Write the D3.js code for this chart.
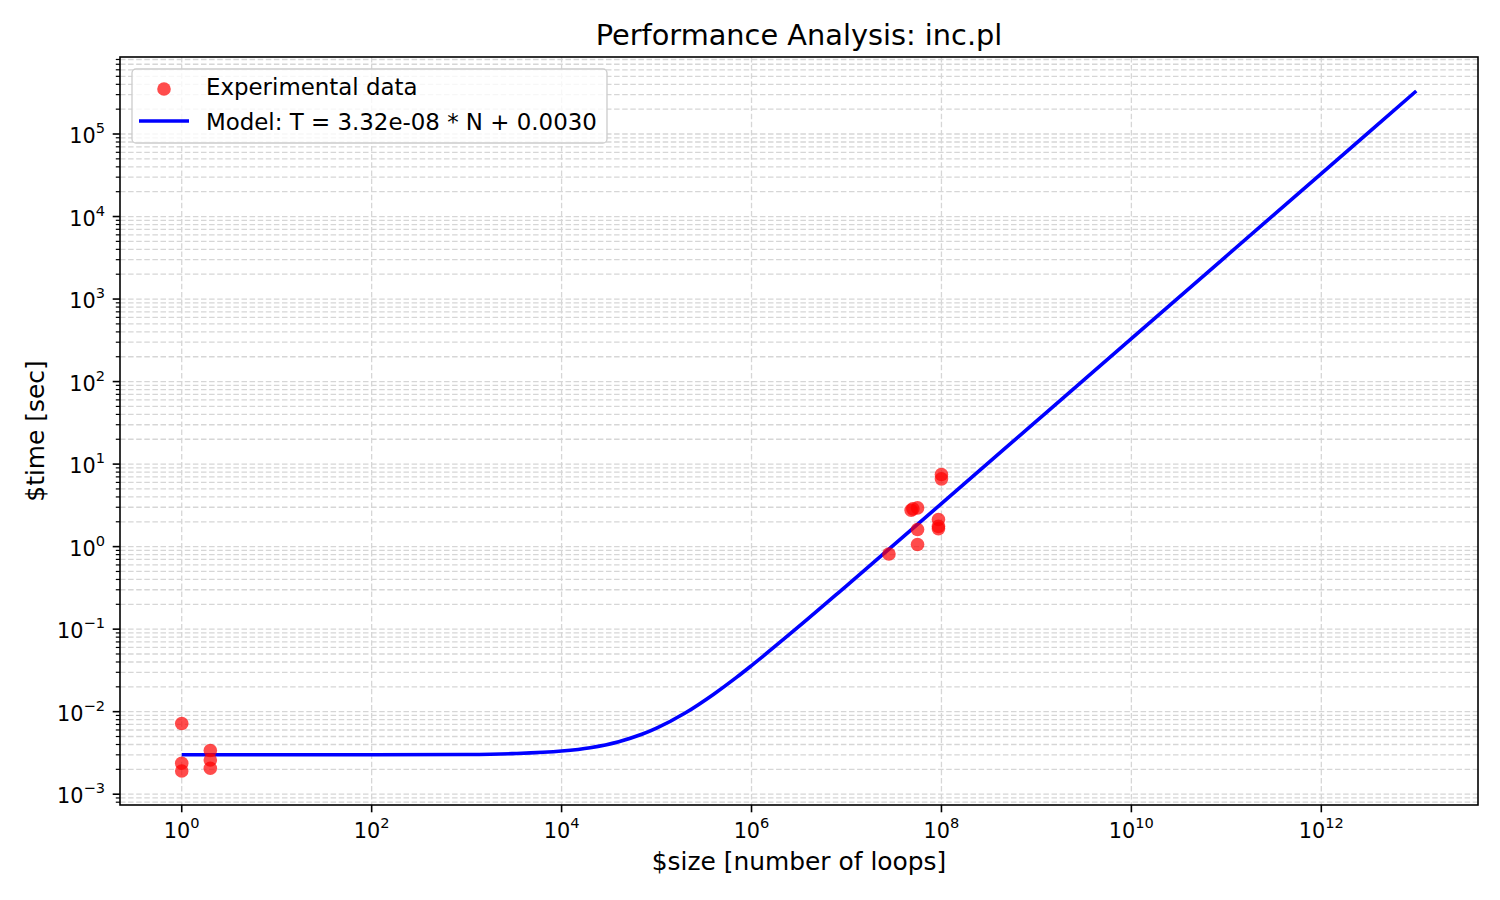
<!DOCTYPE html>
<html>
<head>
<meta charset="utf-8">
<script src="https://cdn.jsdelivr.net/npm/d3@7"></script>
<style>
  body { margin: 0; background: #fff; }
  svg text { font-family: "DejaVu Sans", sans-serif; fill: #000; }
</style>
</head>
<body>
<svg id="chart" width="1500" height="900"></svg>
<script>
// measured runs (loop count, wall time in seconds)
const expSizes = [1, 1, 1, 2, 2, 2, 2.8e7, 4.8e7, 5e7, 5.6e7, 5.6e7, 5.6e7, 9.3e7, 9.3e7, 9.3e7, 1e8, 1e8];
const expTimes = [0.0072, 0.00237, 0.00191, 0.00338, 0.0026, 0.00206, 0.815, 2.76, 2.87, 2.95, 1.61, 1.06, 2.13, 1.76, 1.65, 7.48, 6.63];

// fitted model curve
const modelSizes = [1, 10, 100, 1e3, 3e3, 1e4, 2e4, 4e4, 7e4, 1e5, 2e5, 4e5, 7e5, 1e6, 3e6, 1e7, 1e8, 1e9, 1e10, 1e11, 1e12, 1e13];
const modelTimes = [0.0030, 0.0030, 0.0030, 0.00303, 0.00310, 0.00333, 0.00366, 0.00433, 0.00532, 0.00632, 0.00964, 0.0163, 0.0262, 0.0362, 0.1026, 0.335, 3.32, 33.2, 332, 3320, 33200, 332000];

const xTickExps = [0, 2, 4, 6, 8, 10, 12];
const yTickExps = [-3, -2, -1, 0, 1, 2, 3, 4, 5];

const titleText = 'Performance Analysis: inc.pl';
const xLabelText = '$size [number of loops]';
const yLabelText = '$time [sec]';
const legendLabels = ['Experimental data', 'Model: T = 3.32e-08 * N + 0.0030'];

const margin = {top: 57, right: 22, bottom: 95, left: 120};
const width = 1500, height = 900;
const innerW = width - margin.left - margin.right;
const innerH = height - margin.top - margin.bottom;

// matplotlib-like 5% padding in log space
function logPad(lo, hi) {
  const a = Math.log10(lo), b = Math.log10(hi), p = (b - a) * 0.05;
  return [Math.pow(10, a - p), Math.pow(10, b + p)];
}
const allX = expSizes.concat(modelSizes);
const allY = expTimes.concat(modelTimes);

const xScale = d3.scaleLog().domain(logPad(d3.min(allX), d3.max(allX))).range([0, innerW]);
const yScale = d3.scaleLog().domain(logPad(d3.min(allY), d3.max(allY))).range([innerH, 0]);

const svg = d3.select('#chart');
const g = svg.append('g').attr('transform', `translate(${margin.left},${margin.top})`);

const gridColor = '#d6d6d6';
const dash = '5.5,2.6';

// y grid: major + minor
const yMinor = [];
for (let k = -4; k <= 6; k++) {
  for (let m = 2; m <= 9; m++) {
    const v = m * Math.pow(10, k);
    if (v > yScale.domain()[0] && v < yScale.domain()[1]) yMinor.push(v);
  }
}
const yMajor = yTickExps.map(e => Math.pow(10, e));
const xMajor = xTickExps.map(e => Math.pow(10, e));

const grid = g.append('g').attr('class', 'grid');
grid.selectAll('line.gy')
  .data(yMajor.concat(yMinor))
  .join('line')
  .attr('x1', 0).attr('x2', innerW)
  .attr('y1', d => yScale(d)).attr('y2', d => yScale(d))
  .attr('stroke', gridColor).attr('stroke-width', 1.3).attr('stroke-dasharray', dash);
grid.selectAll('line.gx')
  .data(xMajor)
  .join('line')
  .attr('x1', d => xScale(d)).attr('x2', d => xScale(d))
  .attr('y1', 0).attr('y2', innerH)
  .attr('stroke', gridColor).attr('stroke-width', 1.3).attr('stroke-dasharray', dash);

// model line
const line = d3.line()
  .x((d, i) => xScale(modelSizes[i]))
  .y(d => yScale(d))
  .curve(d3.curveMonotoneX);
g.append('path')
  .datum(modelTimes)
  .attr('d', line)
  .attr('fill', 'none')
  .attr('stroke', '#0000ff')
  .attr('stroke-width', 3.6);

// scatter points
g.append('g')
  .selectAll('circle')
  .data(expTimes)
  .join('circle')
  .attr('cx', (d, i) => xScale(expSizes[i]))
  .attr('cy', d => yScale(d))
  .attr('r', 6.8)
  .attr('fill', '#ff0000')
  .attr('fill-opacity', 0.7);

// axes with mathtext-like labels
function powLabel(sel, e) {
  sel.text(null);
  sel.append('tspan').text('10');
  sel.append('tspan')
    .attr('dy', -10)
    .attr('font-size', 14.6)
    .text(e < 0 ? '\u2212' + (-e) : String(e));
}

const xAxis = g.append('g').attr('transform', `translate(0,${innerH})`);
xAxis.selectAll('line')
  .data(xMajor)
  .join('line')
  .attr('x1', d => xScale(d)).attr('x2', d => xScale(d))
  .attr('y1', 0).attr('y2', 7.3)
  .attr('stroke', '#000').attr('stroke-width', 1.6);
xAxis.selectAll('text')
  .data(xTickExps)
  .join('text')
  .attr('x', e => xScale(Math.pow(10, e)))
  .attr('y', 33)
  .attr('text-anchor', 'middle')
  .attr('font-size', 20.8)
  .each(function(e) { powLabel(d3.select(this), e); });

const yAxis = g.append('g');
yAxis.selectAll('line.maj')
  .data(yMajor)
  .join('line')
  .attr('x1', -7.3).attr('x2', 0)
  .attr('y1', d => yScale(d)).attr('y2', d => yScale(d))
  .attr('stroke', '#000').attr('stroke-width', 1.6);
yAxis.selectAll('line.min')
  .data(yMinor)
  .join('line')
  .attr('x1', -4.2).attr('x2', 0)
  .attr('y1', d => yScale(d)).attr('y2', d => yScale(d))
  .attr('stroke', '#000').attr('stroke-width', 1.2);
yAxis.selectAll('text')
  .data(yTickExps)
  .join('text')
  .attr('x', -15)
  .attr('y', e => yScale(Math.pow(10, e)) + 9)
  .attr('text-anchor', 'end')
  .attr('font-size', 20.8)
  .each(function(e) { powLabel(d3.select(this), e); });

// frame
g.append('rect')
  .attr('width', innerW).attr('height', innerH)
  .attr('fill', 'none').attr('stroke', '#000').attr('stroke-width', 1.6);

// titles
svg.append('text')
  .attr('x', margin.left + innerW / 2).attr('y', 44.5)
  .attr('text-anchor', 'middle').attr('font-size', 28.8)
  .text(titleText);
svg.append('text')
  .attr('x', margin.left + innerW / 2).attr('y', 870)
  .attr('text-anchor', 'middle').attr('font-size', 24.9)
  .text(xLabelText);
svg.append('text')
  .attr('transform', `translate(44,${margin.top + innerH / 2}) rotate(-90)`)
  .attr('text-anchor', 'middle').attr('font-size', 24.9)
  .text(yLabelText);

// legend
const legend = svg.append('g').attr('transform', 'translate(132,69)');
legend.append('rect')
  .attr('width', 475).attr('height', 74).attr('rx', 4)
  .attr('fill', '#fff').attr('fill-opacity', 0.8)
  .attr('stroke', '#cccccc').attr('stroke-width', 1.3);
legend.append('circle')
  .attr('cx', 32).attr('cy', 20).attr('r', 6.8)
  .attr('fill', '#ff0000').attr('fill-opacity', 0.7);
legend.append('line')
  .attr('x1', 7).attr('x2', 57).attr('y1', 52).attr('y2', 52)
  .attr('stroke', '#0000ff').attr('stroke-width', 3.6);
legend.selectAll('text')
  .data(legendLabels)
  .join('text')
  .attr('x', 74)
  .attr('y', (d, i) => 25.7 + i * 35)
  .attr('font-size', 22.9)
  .text(d => d);
</script>
</body>
</html>
